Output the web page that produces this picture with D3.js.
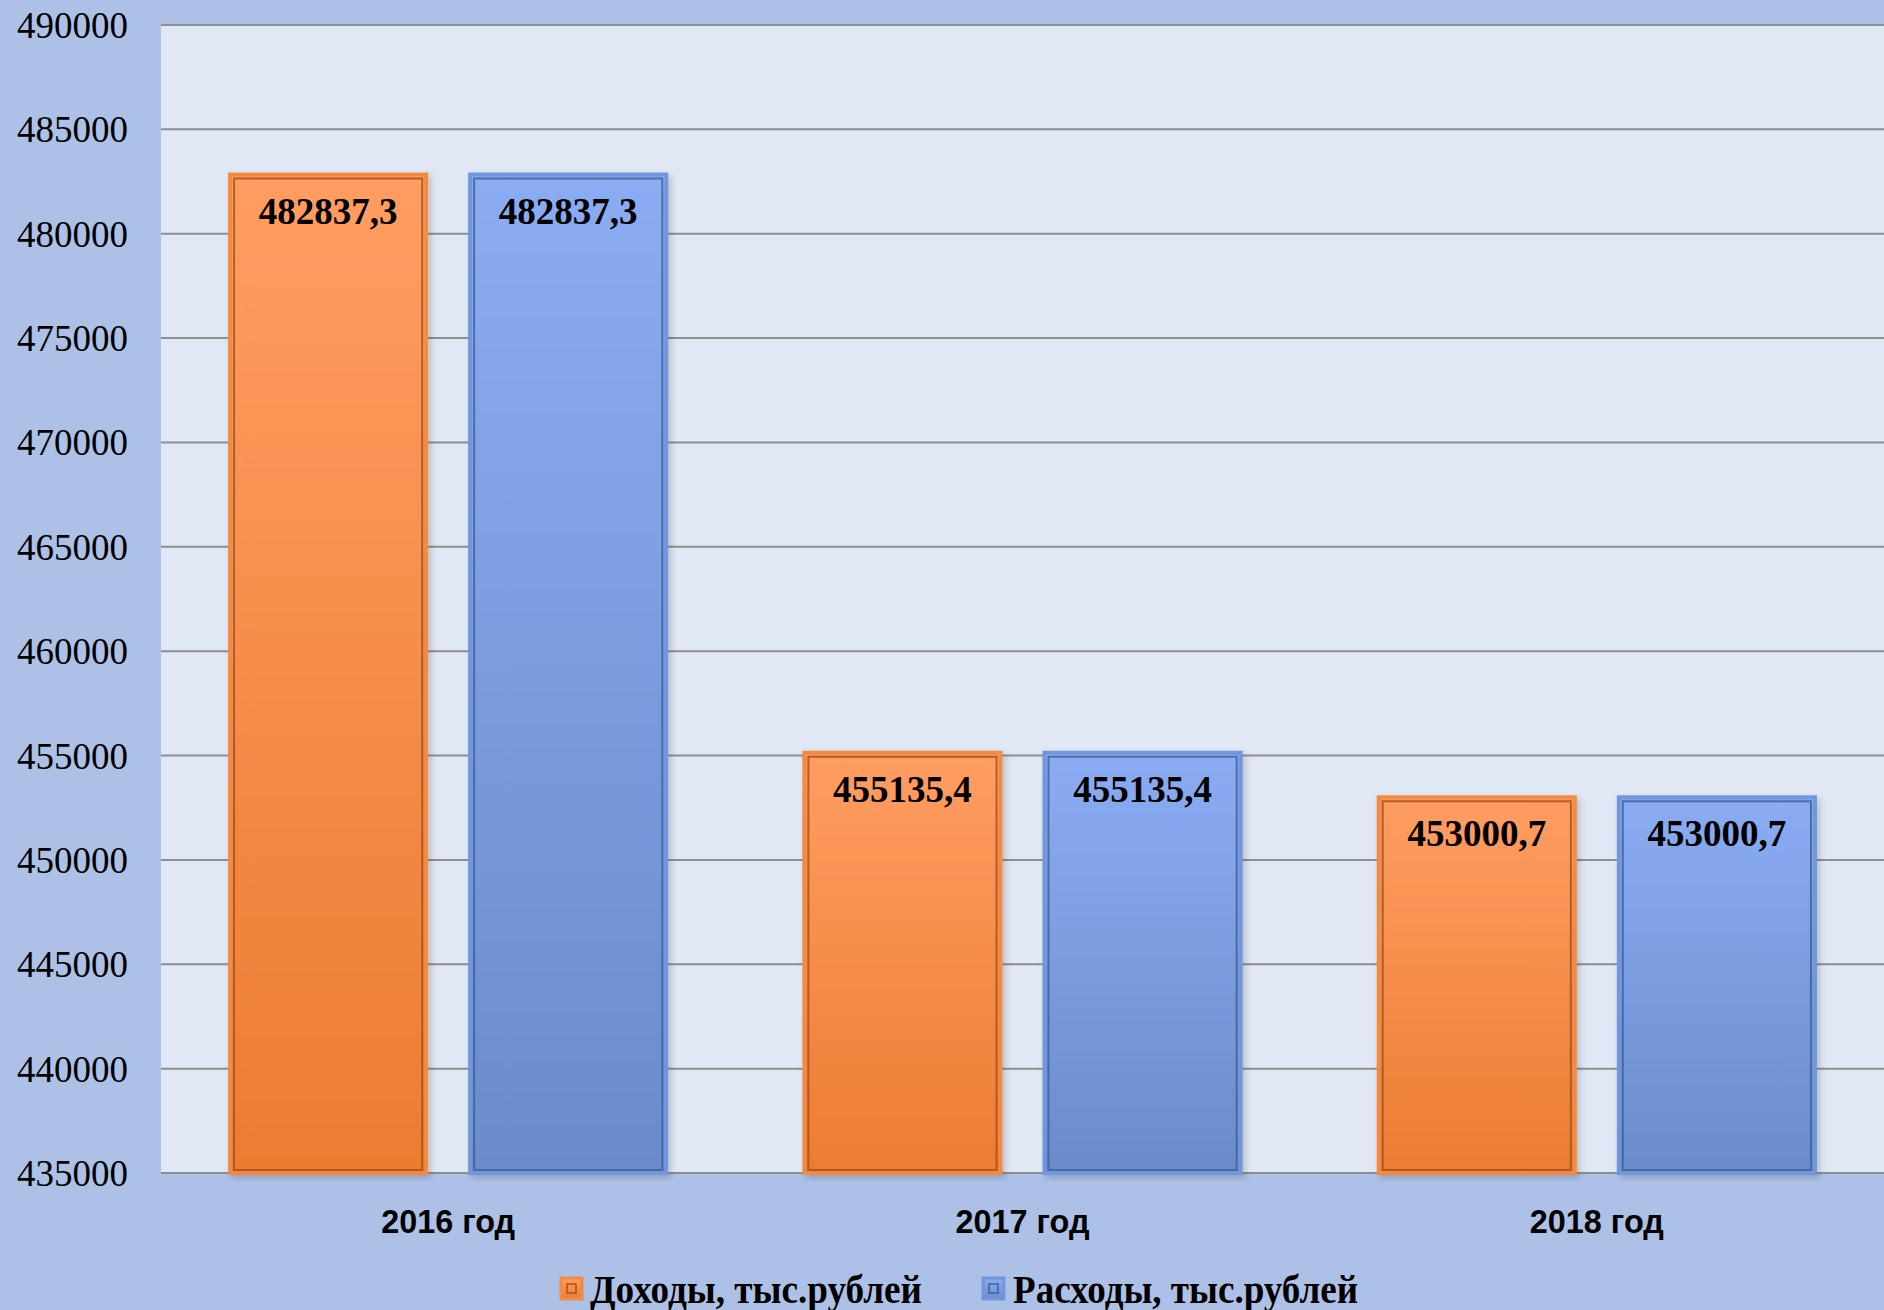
<!DOCTYPE html>
<html>
<head>
<meta charset="utf-8">
<script src="https://cdn.jsdelivr.net/npm/d3@7"></script>
<style>
  html, body { margin: 0; padding: 0; background: #adc1e7; }
  svg { display: block; }
  .ylab { font-family: "Liberation Serif", "Times New Roman", serif; font-size: 37px; font-weight: normal; }
</style>
</head>
<body>
<script>
// data
const years = ["2016 год", "2017 год", "2018 год"];
const seriesNames = ["Доходы, тыс.рублей", "Расходы, тыс.рублей"];
const incomes = [482837.3, 455135.4, 453000.7];
const expenses = [482837.3, 455135.4, 453000.7];
const yTicks = [435000, 440000, 445000, 450000, 455000, 460000, 465000, 470000, 475000, 480000, 485000, 490000];

const W = 1884, H = 1310;
const plot = {left: 161, top: 25, right: 1884, bottom: 1173};
const serif = "'Liberation Serif', 'Times New Roman', serif";

const svg = d3.select("body").append("svg").attr("width", W).attr("height", H);

const defs = svg.append("defs");
function grad(id, c1, c2) {
  const g = defs.append("linearGradient").attr("id", id)
    .attr("x1", 0).attr("y1", 0).attr("x2", 0).attr("y2", 1);
  g.append("stop").attr("offset", "0%").attr("stop-color", c1);
  g.append("stop").attr("offset", "100%").attr("stop-color", c2);
}
grad("gOrange", "#ff9d62", "#ec7c32");
grad("gBlue", "#8aacf3", "#6a8ccb");
const f = defs.append("filter").attr("id", "shadow").attr("x", "-10%").attr("y", "-10%").attr("width", "130%").attr("height", "130%");
f.append("feDropShadow").attr("dx", 3).attr("dy", 3).attr("stdDeviation", 3).attr("flood-color", "#000").attr("flood-opacity", 0.18);

const colors = [
  {fill: "url(#gOrange)", outer: "#f28b42", inner: "#a8521c"},
  {fill: "url(#gBlue)", outer: "#7097dc", inner: "#45609c"}
];

// background
svg.append("rect").attr("width", W).attr("height", H).attr("fill", "#adc1e7");
svg.append("rect")
  .attr("x", plot.left).attr("y", plot.top)
  .attr("width", plot.right - plot.left).attr("height", plot.bottom - plot.top)
  .attr("fill", "#e1e8f5");

const x0 = d3.scaleBand().domain(years).range([plot.left, plot.right]).paddingInner(0).paddingOuter(0);
const x1 = d3.scaleBand().domain(seriesNames).range([0, x0.bandwidth()]).paddingInner(0.183).paddingOuter(0.2875);
const y = d3.scaleLinear().domain([435000, 490000]).range([plot.bottom, plot.top]);

// gridlines
svg.append("g")
  .selectAll("line")
  .data(yTicks)
  .enter()
  .append("line")
  .attr("x1", plot.left).attr("x2", plot.right)
  .attr("y1", d => y(d)).attr("y2", d => y(d))
  .style("stroke", "#8e8e8e")
  .style("stroke-width", "2px");

// y axis labels
svg.append("g")
  .selectAll("text")
  .data(yTicks)
  .enter()
  .append("text")
  .attr("class", "ylab")
  .attr("x", 128)
  .attr("y", d => y(d) + 13)
  .attr("text-anchor", "end")
  .attr("fill", "#000")
  .text(d => d3.format("d")(d));

const ru = d3.formatLocale({decimal: ",", thousands: "", grouping: [3], currency: ["", ""]});
const fmt = ru.format(".1f");

const rows = years.map((yr, i) => ({year: yr, values: [incomes[i], expenses[i]]}));

const groups = svg.append("g")
  .selectAll("g.year")
  .data(rows)
  .enter()
  .append("g")
  .attr("class", "year")
  .attr("transform", d => "translate(" + x0(d.year) + ",0)");

groups.each(function(d) {
  const g = d3.select(this);
  d.values.forEach((v, k) => {
    const bx = x1(seriesNames[k]);
    const bw = x1.bandwidth();
    const by = y(v);
    const bh = plot.bottom - by;
    g.append("rect")
      .attr("x", bx).attr("y", by)
      .attr("width", bw).attr("height", bh)
      .attr("fill", colors[k].fill)
      .attr("stroke", colors[k].outer)
      .attr("stroke-width", 4)
      .attr("filter", "url(#shadow)");
    g.append("rect")
      .attr("x", bx + 4).attr("y", by + 4)
      .attr("width", bw - 8).attr("height", bh - 7)
      .attr("fill", "none")
      .attr("stroke", colors[k].inner)
      .attr("stroke-opacity", 0.85)
      .attr("stroke-width", 2);
    g.append("text")
      .attr("x", bx + bw / 2)
      .attr("y", by + 49)
      .attr("text-anchor", "middle")
      .style("font-family", serif)
      .style("font-weight", "bold")
      .style("font-size", "37px")
      .attr("fill", "#000")
      .text(fmt(v));
  });
});

// x labels
svg.append("g")
  .selectAll("text")
  .data(years)
  .enter()
  .append("text")
  .attr("x", d => x0(d) + x0.bandwidth() / 2)
  .attr("y", 1233)
  .attr("text-anchor", "middle")
  .attr("textLength", 134)
  .attr("lengthAdjust", "spacingAndGlyphs")
  .style("font-family", "'Liberation Sans', Arial, sans-serif")
  .style("font-weight", "bold")
  .style("font-size", "33px")
  .attr("fill", "#000")
  .text(d => d);

// legend
const legend = [
  {name: seriesNames[0], mx: 561, tx: 590, tl: 332},
  {name: seriesNames[1], mx: 983, tx: 1013, tl: 345}
];
const lg = svg.append("g");
legend.forEach((l, k) => {
  lg.append("rect")
    .attr("x", l.mx).attr("y", 1278).attr("width", 21).attr("height", 21)
    .attr("fill", colors[k].fill).attr("stroke", colors[k].outer).attr("stroke-width", 3);
  lg.append("rect")
    .attr("x", l.mx + 6).attr("y", 1284).attr("width", 9).attr("height", 9)
    .attr("fill", "none").attr("stroke", colors[k].inner).attr("stroke-width", 1.5);
  lg.append("text")
    .attr("x", l.tx).attr("y", 1303)
    .attr("textLength", l.tl)
    .attr("lengthAdjust", "spacingAndGlyphs")
    .style("font-family", serif)
    .style("font-weight", "bold")
    .style("font-size", "39px")
    .attr("fill", "#000")
    .text(l.name);
});
</script>
</body>
</html>
